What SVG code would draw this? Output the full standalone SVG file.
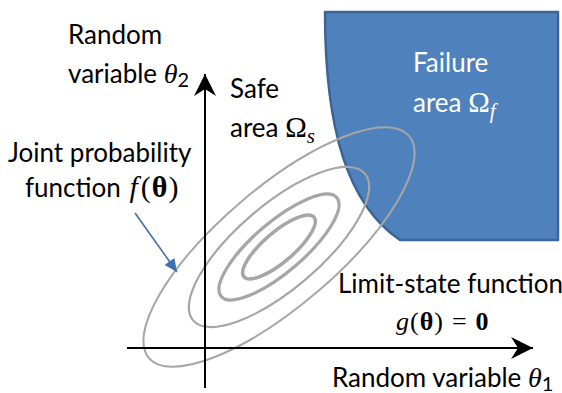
<svg xmlns="http://www.w3.org/2000/svg" width="562" height="393" viewBox="0 0 562 393">
<style>
.t{font-family:Lato,"Liberation Sans",sans-serif;font-size:26px;fill:#000}
.w{fill:#fff}
.m{font-family:"Liberation Serif","DejaVu Serif",serif}
.i{font-style:italic}
.b{font-weight:bold}
.ax{stroke:#000;stroke-width:2;fill:none}
.el{fill:none;stroke:#A6A6A6}
</style>
<defs>
<marker id="ah" markerUnits="userSpaceOnUse" markerWidth="30" markerHeight="30" refX="22" refY="11" orient="auto" viewBox="0 0 30 30">
<path d="M0,0 L22,11 L0,22 L7,11 Z" fill="#000"/>
</marker>
<marker id="bh" markerUnits="userSpaceOnUse" markerWidth="20" markerHeight="20" refX="13" refY="6" orient="auto" viewBox="0 0 20 20">
<path d="M0,0 L13,6 L0,12 Z" fill="#3F6FB5"/>
</marker>
</defs>
<g id="failure-area">
<path d="M325,12 L558,12 L558,240 L400,240 C348,205 325,130 325,12 Z" fill="#4F81BD" stroke="#3C6496" stroke-width="2.5" stroke-linejoin="round"/>
<text class="t w" x="413" y="72">Failure</text>
<text class="t w" x="413" y="112">area <tspan class="m" font-size="29">Ω</tspan><tspan class="m i" font-size="21" dy="6">f</tspan></text>
</g>
<g id="pdf-contours" transform="translate(279,247) rotate(-40.5)">
<ellipse class="el" rx="171" ry="59" stroke-width="2"/>
<ellipse class="el" rx="113" ry="42" stroke-width="2.2"/>
<ellipse class="el" rx="76" ry="25" stroke-width="3.2"/>
<ellipse class="el" rx="46" ry="15" stroke-width="3.5"/>
</g>
<g id="connectors">
<line class="ax" x1="205" y1="388" x2="205" y2="74" marker-end="url(#ah)"/>
<line class="ax" x1="127" y1="348" x2="533" y2="348" marker-end="url(#ah)"/>
<line x1="135" y1="213" x2="177" y2="272" stroke="#3F6FB5" stroke-width="1.6" marker-end="url(#bh)"/>
</g>
<g id="axis-theta2">
<text class="t" x="68" y="44">Random</text>
<text class="t" x="68" y="83">variable <tspan class="m i" font-size="28">θ</tspan><tspan font-size="20" dy="4">2</tspan></text>
</g>
<g id="safe-area">
<text class="t" x="230" y="98">Safe</text>
<text class="t" x="230" y="137">area <tspan class="m" font-size="29">Ω</tspan><tspan class="m i" font-size="21" dy="6">s</tspan></text>
</g>
<g id="joint-pdf">
<text class="t" x="8" y="162">Joint probability</text>
<text class="t" x="25" y="197">function <tspan class="m i" font-size="30" dx="2">f</tspan><tspan class="m" font-size="30" dx="3">(</tspan><tspan class="m b" font-size="30" dx="1">θ</tspan><tspan class="m" font-size="30" dx="1">)</tspan></text>
</g>
<g id="limit-state">
<text class="t" x="338" y="293" font-size="25.8">Limit-state function</text>
<text class="t m" x="396" y="330" font-size="30"><tspan class="i">g</tspan><tspan dx="1">(</tspan><tspan class="b" dx="1">θ</tspan><tspan dx="1">)</tspan><tspan dx="9">=</tspan><tspan class="b" dx="9">0</tspan></text>
</g>
<g id="axis-theta1">
<text class="t" x="332" y="387" font-size="25.8">Random variable <tspan class="m i" font-size="28">θ</tspan><tspan font-size="20" dy="4">1</tspan></text>
</g>
</svg>
